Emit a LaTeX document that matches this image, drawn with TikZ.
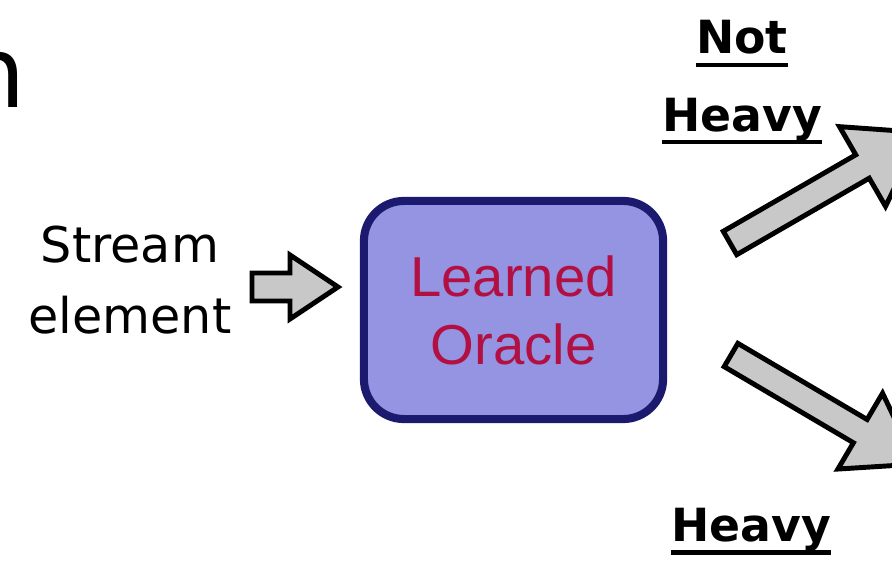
\documentclass[tikz,border=0pt]{standalone}
\usepackage{fontspec}
\setmainfont{DejaVu Sans}
\newfontfamily\boxfont{Liberation Sans}
\usetikzlibrary{positioning}

\definecolor{oraclefill}{RGB}{148,148,226}
\definecolor{oracleline}{RGB}{28,26,110}
\definecolor{oracletext}{RGB}{178,16,66}
\definecolor{arrowgray}{RGB}{200,200,200}

% underline that sits a fixed distance under the baseline
\newcommand\ulword[1]{\setbox0\hbox{#1}\rlap{\rule[-3.7pt]{\wd0}{1.2pt}}\box0}

\tikzset{
  blockarr/.style={draw=black, fill=arrowgray, line width=1.4pt, line join=miter},
  label/.style={inner sep=0pt, align=center, font=\fontsize{14}{20}\selectfont},
  decision/.style={inner sep=0pt, align=center, font=\fontsize{13}{22}\selectfont\bfseries}
}

\begin{document}
\begin{tikzpicture}[x=0.01cm, y=-0.01cm]
\useasboundingbox (0,0) rectangle (892,561);
\clip (0,0) rectangle (892,561);
\fill[white] (0,0) rectangle (892,561);

% bit of the heading that runs in from the left
\node[anchor=base east, inner sep=0pt, font=\fontsize{28}{30}\selectfont] (head) at (27,108) {n};

% input
\node[label] (stream) at (130,280) {Stream\\element};

% the oracle box
\node[draw=oracleline, fill=oraclefill, line width=2.3pt, rounded corners=0.4cm,
      minimum width=2.99cm, minimum height=2.18cm, inner sep=0pt] (oracle) at (513.5,310) {};
\node[align=center, inner sep=0pt, text=oracletext, font=\boxfont\fontsize{16}{19.3}\selectfont] (oracletxt) at (oracle.center) {Learned\\Oracle};

% Small arrow into the box
\draw[blockarr, shift={(252,287)}] (0,-14) -- (38,-14) -- (38,-32) -- (86,0) -- (38,32) -- (38,14) -- (0,14) -- cycle;

% Upper arrow
\draw[blockarr, shift={(730,243)}, rotate=30] (0,-13.5) -- (153,-13.5) -- (153,-46) -- (221,0) -- (153,46) -- (153,13.5) -- (0,13.5) -- cycle;

% Lower arrow
\draw[blockarr, shift={(731,355)}, rotate=-30.5] (0,-13.5) -- (150,-13.5) -- (150,-44) -- (215,0) -- (150,44) -- (150,13.5) -- (0,13.5) -- cycle;

% outcomes
\node[decision] (notheavy) at (742,82.5) {\ulword{Not}\\\ulword{Heavy}};
\node[decision] (heavy) at (751,531.5) {\ulword{Heavy}};
\end{tikzpicture}
\end{document}
